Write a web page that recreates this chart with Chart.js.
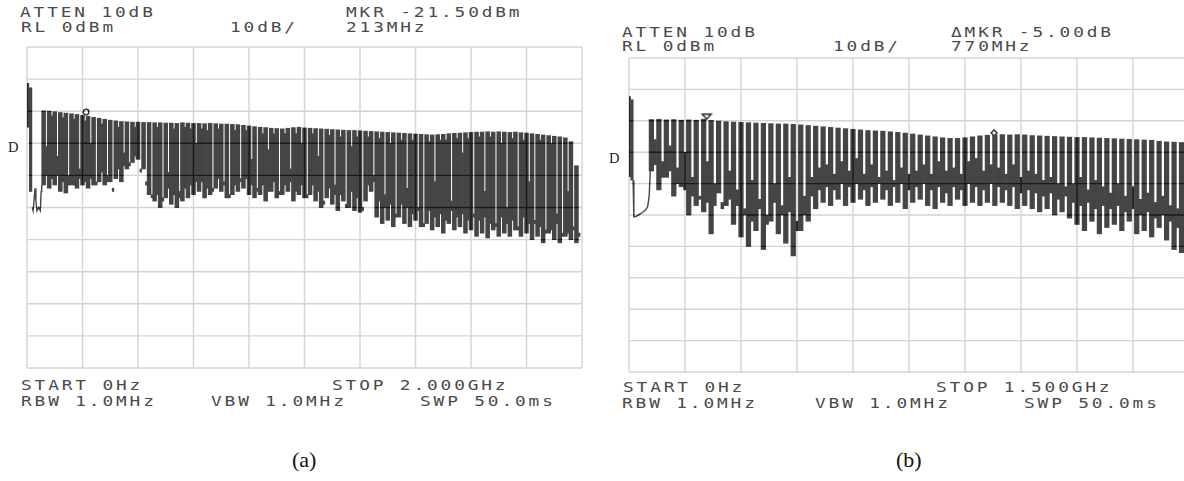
<!DOCTYPE html>
<html>
<head>
<meta charset="utf-8">
<script src="https://cdn.jsdelivr.net/npm/chart.js@4.4.1/dist/chart.umd.min.js"></script>
<style>
  html, body { margin: 0; padding: 0; background: #fff; }
  body { width: 1184px; height: 481px; position: relative; overflow: hidden; }
  .plot { position: absolute; }
  .t {
    position: absolute; font-family: 'DejaVu Sans Mono', monospace; font-size: 13.7px;
    line-height: 1; color: #4a4a4a; white-space: pre; letter-spacing: 2.2px;
    transform: scaleX(1.3); transform-origin: 0 0;
  }
  .d { position: absolute; font-family: 'Liberation Serif', 'Times New Roman', serif; font-size: 14.5px; line-height: 1; color: #222; }
  .cap { position: absolute; font-family: 'Liberation Serif', 'Times New Roman', serif; font-size: 22px; line-height: 1; color: #111; }
</style>
</head>
<body>
<div class="plot" style="left:25px;top:45px;width:559px;height:325px"><canvas id="specA" width="559" height="325"></canvas></div>
<div class="plot" style="left:627px;top:56px;width:564px;height:318px"><canvas id="specB" width="564" height="318"></canvas></div>

<!-- panel (a) annotations -->
<div class="t" style="left:20px;top:6px">ATTEN 10dB</div>
<div class="t" style="left:346px;top:6px">MKR -21.50dBm</div>
<div class="t" style="left:21px;top:21px">RL 0dBm</div>
<div class="t" style="left:230px;top:21px">10dB/</div>
<div class="t" style="left:346px;top:21px">213MHz</div>
<div class="t" style="left:21px;top:379px">START 0Hz</div>
<div class="t" style="left:332px;top:379px">STOP 2.000GHz</div>
<div class="t" style="left:21px;top:395px">RBW 1.0MHz</div>
<div class="t" style="left:211px;top:395px">VBW 1.0MHz</div>
<div class="t" style="left:420px;top:395px">SWP 50.0ms</div>
<div class="d" style="left:8px;top:140px">D</div>
<div class="cap" style="left:292px;top:449px">(a)</div>

<!-- panel (b) annotations -->
<div class="t" style="left:622px;top:26px">ATTEN 10dB</div>
<div class="t" style="left:951px;top:26px">ΔMKR -5.00dB</div>
<div class="t" style="left:622px;top:40px">RL 0dBm</div>
<div class="t" style="left:833px;top:40px">10dB/</div>
<div class="t" style="left:951px;top:40px">770MHz</div>
<div class="t" style="left:623px;top:381px">START 0Hz</div>
<div class="t" style="left:936px;top:381px">STOP 1.500GHz</div>
<div class="t" style="left:622px;top:397px">RBW 1.0MHz</div>
<div class="t" style="left:815px;top:397px">VBW 1.0MHz</div>
<div class="t" style="left:1024px;top:397px">SWP 50.0ms</div>
<div class="d" style="left:609px;top:151px">D</div>
<div class="cap" style="left:896px;top:449px">(b)</div>

<script>
// ---------- sweep (a): 0 Hz .. 2.000 GHz, comb lines every 20 MHz ----------
const freqA = [60,80,100,120,140,160,180,200,220,240,260,280,300,320,340,360,380,400,420,440,
  460,480,500,520,540,560,580,600,620,640,660,680,700,720,740,760,780,800,820,840,
  860,880,900,920,940,960,980,1000,1020,1040,1060,1080,1100,1120,1140,1160,1180,1200,1220,1240,
  1260,1280,1300,1320,1340,1360,1380,1400,1420,1440,1460,1480,1500,1520,1540,1560,1580,1600,1620,1640,
  1660,1680,1700,1720,1740,1760,1780,1800,1820,1840,1860,1880,1900,1920,1940,1960,1980];
// line peak level (dBm)
const peakA = [-19.9,-20.0,-20.2, -20.4,-20.6,-20.8,-21.0,-21.3, -21.6,-21.9,-22.2,-22.5,-22.8,
  -23.0,-23.2,-23.3,-23.4,-23.4, -23.5,-23.5,-23.6,-23.6,-23.7, -23.7,-23.8,-23.6,-23.7,-23.8,
  -23.8,-23.9,-23.8,-23.9,-24.0, -24.0,-24.1,-24.2,-24.4,-24.6, -24.8,-25.0,-25.1,-25.3,-25.4,
  -25.5,-25.3,-25.1,-25.0,-25.2, -25.3,-25.4,-25.5,-25.6,-25.7, -25.8,-25.9,-26.0,-26.0,-26.1,
  -26.2,-26.3,-26.4,-26.5,-26.6, -26.7,-26.8,-26.9,-27.0,-27.1, -27.2,-27.3,-27.4,-27.3,-27.2,
  -27.0,-26.9,-26.8,-26.7,-26.6, -26.5,-26.5,-26.4,-26.5,-26.4, -26.5,-26.6,-26.5,-26.7,-26.8,
  -27.0,-27.2,-27.4,-27.6,-27.8, -28.0,-28.3,-29.5,-37.0];
// lowest excursion under each line (dBm)
const lowA = [-43,-44,-43, -45,-45.5,-43,-44,-43, -44,-43,-42,-43,-42, -41,-42,-38,-36,-35,
  -38,-46,-48,-50,-47, -49,-50,-48,-47,-46, -45,-47,-46,-44,-45, -47,-46,-45,-44,-46,
  -47,-46,-48,-45,-47, -46,-45,-48,-46,-47, -46,-48,-50,-47,-49, -51,-48,-50,-51,-51.5,
  -48,-45,-53,-55,-54, -56,-53,-55,-56,-54, -56,-55,-57,-56,-58, -55,-57,-56,-58,-57,
  -59,-58,-59.5,-57,-59, -58,-59,-57,-59,-58, -60,-59,-61,-58,-60, -61,-59,-60,-61];
// trace between neighbouring lines: upper and lower level (dBm)
const notchA = [-31,-21.5,-34, -22,-40,-22.5,-38,-23, -30,-42,-24,-40,-44, -25,-33,-36,-25,-38,
  -42,-46,-25,-47,-39, -25.5,-45,-25,-25.5,-30, -25.5,-26,-44,-25.5,-42, -46,-26,-41,-26,-35,
  -44,-27,-32,-27,-45, -27,-38,-27,-30,-46, -27,-34,-48,-27.5,-43, -28,-49,-31,-28,-50,
  -28,-40,-28.5,-46,-30, -52,-29,-44,-29,-50, -55,-29.5,-42,-29,-29, -48,-28.5,-33,-28.5,-52,
  -28,-45,-28,-55,-30, -50,-28.5,-56,-29,-42, -54,-29,-57,-30,-52, -58,-45,-56,-58];
const floorA = [-40,-41,-40, -42,-43,-43,-41,-42, -41,-43,-39,-42,-45, -38,-37,-37,-34,-39,
  -43,-47,-46,-48,-44, -46,-47,-44,-43,-42, -42,-44,-45,-41,-43, -47,-43,-42,-41,-43,
  -45,-43,-45,-42,-46, -43,-42,-45,-43,-47, -43,-45,-49,-44,-46, -46,-50,-45,-47,-51,
  -43,-42,-48,-50,-49, -53,-49,-50,-52,-51, -56,-51,-53,-52,-54, -51,-53,-52,-54,-53,
  -54,-53,-55,-56,-53, -55,-54,-57,-53,-55, -55,-56,-58,-57,-55, -59,-58,-57,-59];
// LO feed-through at 0 Hz and the noise just after it
const loFreqA = [2, 13];
const loTopA = [-11.3, -12.7];
const loBottomA = [-25, -45];
const noiseFreqA = [19, 22, 26, 29, 32, 36, 42, 48, 51, 53];
const noiseLevelA = [-50, -51, -47, -44, -48, -51, -50, -51, -45, -43];
const markerA = { freq: 213, level: -21.5 };

// ---------- sweep (b): 0 Hz .. 1.500 GHz ----------
const freqB = [60,80,100,120,140,160,180,200,220,240,260,280,300,320,340,360,380,400,420,440,
  460,480,500,520,540,560,580,600,620,640,660,680,700,720,740,760,780,800,820,840,
  860,880,900,920,940,960,980,1000,1020,1040,1060,1080,1100,1120,1140,1160,1180,1200,1220,1240,
  1260,1280,1300,1320,1340,1360,1380,1400,1420,1440,1460,1480];
const peakB = [-19.6,-19.5,-19.7,-19.6,-19.8,-19.7, -19.8,-19.5,-19.9,-20.1,-20.3,
  -20.4,-20.5,-20.6,-20.7,-20.8, -20.9,-21.0,-21.0,-21.1,-21.3, -21.5,-21.7,-21.9,-22.1,-22.3,
  -22.5,-22.7,-22.9,-23.1,-23.2, -23.3,-23.5,-23.7,-23.9,-24.2, -24.5,-24.8,-25.1,-25.4,-25.6,
  -25.6,-25.4,-25.1,-24.8,-24.6, -24.5,-24.4,-24.5,-24.4,-24.5, -24.7,-24.8,-24.9,-25.0,-25.1,
  -25.2,-25.3,-25.3,-25.4,-25.5, -25.6,-25.7,-25.8,-25.9,-26.0, -26.1,-26.2,-26.5,-26.7,-26.8,-26.9];
const lowB = [-36,-42,-38,-44,-41,-50, -47,-49,-56,-43,-47, -53,-57,-60,-55,-61, -52,-56,-59,-63,-55,
  -52,-48,-46,-47,-45, -47,-46,-45,-47,-46, -45,-47,-46,-48,-46, -45,-47,-48,-46,-47,
  -45,-47,-46,-47,-46, -47,-46,-47,-48,-47, -48,-49,-48,-50,-49, -51,-53,-55,-52,-56,
  -54,-53,-55,-52,-56, -55,-57,-54,-58,-61,-62];
const notchB = [-26,-33,-28,-35,-30,-38, -44,-33,-40,-46,-36, -42,-48,-39,-45,-50, -40,-47,-38,-52,-44,
  -38,-35,-34,-37,-33, -36,-32,-37,-34,-38, -36,-39,-35,-37,-36, -34,-37,-33,-36,-35,
  -37,-33,-32,-36,-34, -35,-37,-34,-38,-36, -37,-39,-38,-40,-41, -40,-38,-42,-39,-41,
  -43,-40,-44,-41,-45, -43,-46,-44,-47,-48,-49];
const floorB = [-34,-38,-36,-40,-42,-44, -45,-46,-47,-48,-45, -47,-50,-52,-48,-53, -46,-50,-49,-55,-50,
  -44,-42,-41,-42,-40, -41,-40,-42,-41,-40, -42,-41,-40,-42,-41, -40,-42,-41,-43,-41,
  -42,-40,-41,-42,-40, -41,-42,-41,-43,-42, -43,-44,-43,-45,-44, -46,-47,-46,-48,-47,
  -48,-47,-49,-48,-50, -49,-51,-50,-52,-54,-56];
const loFreqB = [1, 8];
const loTopB = [-12.3, -13.3];
const loBottomB = [-37.8, -38.9];
const noiseFreqB = [11, 13, 20, 28, 36, 44, 50, 54, 57];
const noiseLevelB = [-38.9, -50.6, -50.4, -49.8, -49.2, -48.4, -47.4, -44, -36];
const refMarkerB = { freq: 208, level: -19.5 };
const deltaMarkerB = { freq: 208 + 770, level: -19.5 - 5.0 };

const TRACE = '#454545';
const LINE_STEP_MHZ = 20;

// marker glyphs (drawn just above the trace point)
function glyph(w, h, draw) {
  const c = document.createElement('canvas');
  c.width = w; c.height = h;
  const g = c.getContext('2d');
  g.strokeStyle = '#1e1e1e'; g.fillStyle = '#fff'; g.lineWidth = 1.3;
  draw(g);
  return c;
}
const circleGlyph = glyph(10, 18, g => { g.beginPath(); g.arc(5, 5, 2.8, 0, Math.PI * 2); g.fill(); g.stroke(); });
const triangleGlyph = glyph(12, 16, g => { g.beginPath(); g.moveTo(1.5, 3); g.lineTo(10.5, 3); g.lineTo(6, 8); g.closePath(); g.fill(); g.stroke(); });
const diamondGlyph = glyph(10, 14, g => { g.beginPath(); g.moveTo(5, 2); g.lineTo(8, 5); g.lineTo(5, 8); g.lineTo(2, 5); g.closePath(); g.fill(); g.stroke(); });

// white screen + graticule drawn over the trace (difference blend darkens it inside the trace)
const screenPlugin = {
  id: 'screen',
  beforeDraw(chart) {
    const { ctx, width, height } = chart;
    ctx.save(); ctx.fillStyle = '#fff'; ctx.fillRect(0, 0, width, height); ctx.restore();
  },
  afterDatasetsDraw(chart) {
    const { ctx, chartArea: a, scales: { x, y } } = chart;
    ctx.save();
    ctx.globalCompositeOperation = 'difference';
    ctx.strokeStyle = 'rgb(44,44,44)';
    ctx.lineWidth = 1.4;
    ctx.beginPath();
    x.ticks.forEach(t => { const p = x.getPixelForValue(t.value); ctx.moveTo(p, a.top); ctx.lineTo(p, a.bottom); });
    y.ticks.forEach(t => { const p = y.getPixelForValue(t.value); ctx.moveTo(a.left, p); ctx.lineTo(a.right, p); });
    ctx.stroke();
    ctx.restore();
  }
};

function spectrum(id, s) {
  const lines = s.freq.map((f, i) => ({ x: f, y: [s.low[i], s.peak[i]] }));
  const between = s.freq.map((f, i) => ({ x: f + LINE_STEP_MHZ / 2, y: [s.floor[i], s.notch[i]] }));
  const lo = s.loFreq.map((f, i) => ({ x: f, y: [s.loBottom[i], s.loTop[i]] }));
  const noise = s.noiseFreq.map((f, i) => ({ x: f, y: s.noiseLevel[i] }));
  const datasets = [
    { type: 'bar', data: lines, backgroundColor: TRACE, borderWidth: 0, grouped: false, barThickness: s.lineW },
    { type: 'bar', data: between, backgroundColor: TRACE, borderWidth: 0, grouped: false, barThickness: s.gapW },
    { type: 'bar', data: lo, backgroundColor: TRACE, borderWidth: 0, grouped: false, barThickness: s.loW },
    { type: 'line', data: noise, borderColor: TRACE, borderWidth: 1.4, pointRadius: 0, tension: 0 }
  ];
  s.markers.forEach(m => datasets.push({
    type: 'line', data: [{ x: m.freq, y: m.level }], showLine: false,
    pointStyle: m.glyph, pointRadius: 5, pointHoverRadius: 5
  }));
  return new Chart(document.getElementById(id), {
    type: 'bar',
    data: { datasets },
    options: {
      responsive: false, animation: false, events: [],
      layout: { padding: 2, autoPadding: false },
      plugins: { legend: { display: false }, tooltip: { enabled: false } },
      scales: {
        x: { type: 'linear', min: 0, max: s.span, offset: false,
             ticks: { display: false, stepSize: s.span / 10 },
             grid: { display: false, drawTicks: false }, border: { display: false } },
        y: { type: 'linear', min: -100, max: 0,
             ticks: { display: false, stepSize: 10 },
             grid: { display: false, drawTicks: false }, border: { display: false } }
      }
    },
    plugins: [screenPlugin]
  });
}

spectrum('specA', {
  span: 2000, freq: freqA, peak: peakA, low: lowA, notch: notchA, floor: floorA,
  loFreq: loFreqA, loTop: loTopA, loBottom: loBottomA,
  noiseFreq: noiseFreqA, noiseLevel: noiseLevelA,
  lineW: 3.9, gapW: 1.65, loW: 2.6,
  markers: [{ freq: markerA.freq, level: markerA.level, glyph: circleGlyph }]
});
spectrum('specB', {
  span: 1500, freq: freqB, peak: peakB, low: lowB, notch: notchB, floor: floorB,
  loFreq: loFreqB, loTop: loTopB, loBottom: loBottomB,
  noiseFreq: noiseFreqB, noiseLevel: noiseLevelB,
  lineW: 4.6, gapW: 2.87, loW: 2.4,
  markers: [
    { freq: refMarkerB.freq, level: refMarkerB.level, glyph: triangleGlyph },
    { freq: deltaMarkerB.freq, level: deltaMarkerB.level, glyph: diamondGlyph }
  ]
});
</script>
</body>
</html>
